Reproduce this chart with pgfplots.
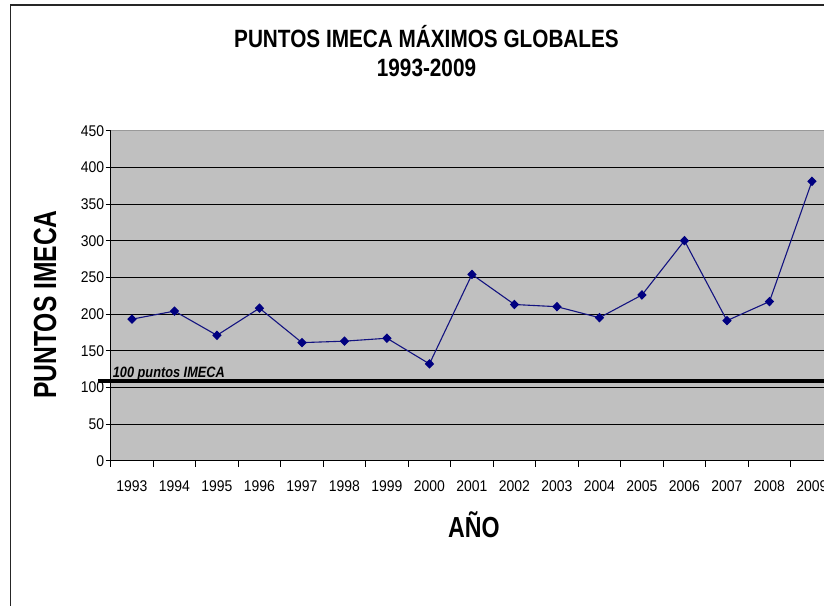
\documentclass[border=0pt]{standalone}
\usepackage{fontspec}
\setmainfont{Liberation Sans}
\newfontfamily\titlefont[FakeStretch=0.83]{Liberation Sans}
\newfontfamily\ylabfont[FakeStretch=0.77]{Liberation Sans}
\newfontfamily\xlabfont[FakeStretch=0.8]{Liberation Sans}
\newfontfamily\tickfont[FakeStretch=0.9]{Liberation Sans}
\newfontfamily\notefont[FakeStretch=0.85]{Liberation Sans}
\usepackage{pgfplots}
\usepackage{pgfplotstable}
\pgfplotsset{compat=1.18}
\definecolor{plotgray}{RGB}{192,192,192}
\definecolor{navyline}{RGB}{0,0,128}
\pgfplotstableread{
x year value
0 1993 193
1 1994 204
2 1995 171
3 1996 208
4 1997 161
5 1998 163
6 1999 167
7 2000 132
8 2001 254
9 2002 213
10 2003 210
11 2004 195
12 2005 226
13 2006 300
14 2007 191
15 2008 217
16 2009 381
}\imeca
\begin{document}
\begin{tikzpicture}[x=1pt,y=1pt]
\path[use as bounding box] (0,0) rectangle (824,605);
\draw[line width=1.2pt, black!85] (10.5,-2) -- (10.5,600) -- (830,600);
\node[anchor=base, inner sep=0, font=\titlefont\bfseries\fontsize{25}{25}\selectfont] at (426.5,557) {PUNTOS IMECA MÁXIMOS GLOBALES};
\node[anchor=base, inner sep=0, font=\titlefont\bfseries\fontsize{25}{25}\selectfont] at (426.5,528) {1993-2009};
\node[rotate=90, inner sep=0, font=\ylabfont\bfseries\fontsize{32}{32}\selectfont] at (45,300.5) {PUNTOS IMECA};
\node[anchor=base, inner sep=0, font=\xlabfont\bfseries\fontsize{29}{29}\selectfont] at (474,68) {AÑO};
\begin{axis}[
  at={(110.7pt,144.3pt)}, anchor=south west,
  scale only axis, width=722.5pt, height=330pt,
  xmin=-0.5, xmax=16.5, ymin=0, ymax=450,
  clip=false,
  axis background/.style={fill=plotgray},
  axis x line*=bottom, axis y line*=left,
  axis line style={-, black, line width=0.9pt},
  tick align=outside,
  major tick length=5pt, minor tick length=6pt,
  tick style={black, line width=0.8pt},
  xtick={0,...,16},
  xticklabels={1993,1994,1995,1996,1997,1998,1999,2000,2001,2002,2003,2004,2005,2006,2007,2008,2009},
  minor xtick={-0.5,0.5,...,16.5},
  major x tick style={draw=none},
  ytick={0,50,...,450},
  extra y ticks={50,100,...,400},
  extra y tick labels={},
  extra y tick style={grid=major, major tick length=0pt},
  major grid style={black, line width=0.8pt},
  /pgf/number format/assume math mode=true,
  xticklabel style={font=\tickfont\fontsize{15.5}{15.5}\selectfont, anchor=base, yshift=-26pt},
  yticklabel style={font=\tickfont\fontsize{15.5}{15.5}\selectfont, xshift=2pt},
]
\draw[gray!80, line width=0.8pt] (rel axis cs:0,1) -- (rel axis cs:1,1);
\addplot[black, line width=4pt, forget plot] coordinates {(-0.8,108) (16.5,108)};
\addplot[navyline!85!gray, line width=1.1pt, mark=diamond*, mark size=4pt,
  mark options={fill=navyline, draw=navyline, xscale=1.3}] table[x=x, y=value] {\imeca};
\node[anchor=base west, inner sep=0, font=\notefont\bfseries\itshape\fontsize{15}{15}\selectfont] at (axis cs:-0.453,114) {100 puntos IMECA};
\end{axis}
\end{tikzpicture}
\end{document}
